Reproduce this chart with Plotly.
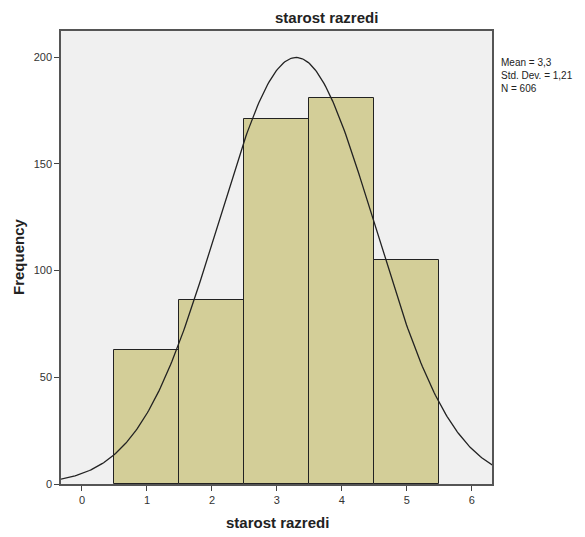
import numpy as np
import plotly.graph_objects as go

categories = [1, 2, 3, 4, 5]
frequencies = [63, 86, 171, 181, 105]
tick_vals_x = [0, 1, 2, 3, 4, 5, 6]
tick_vals_y = [0, 50, 100, 150, 200]
stat_mean = 3.3
stat_sd = 1.21
stat_n = 606
title_text = "starost razredi"
x_title = "starost razredi"
y_title = "Frequency"

# fitted normal curve from the stated statistics
n = sum(frequencies)
mean_exact = sum(c * f for c, f in zip(categories, frequencies)) / n
xs = np.linspace(-0.33, 6.33, 300)
ys = n * 1.0 / (stat_sd * np.sqrt(2 * np.pi)) * np.exp(-0.5 * ((xs - mean_exact) / stat_sd) ** 2)

fig = go.Figure()
fig.add_trace(go.Bar(
    x=categories, y=frequencies, width=1.0,
    marker=dict(color="#D3CE98", line=dict(color="#222222", width=1)),
    hoverinfo="skip",
))
fig.add_trace(go.Scatter(
    x=xs, y=ys, mode="lines",
    line=dict(color="#222222", width=1.3),
    hoverinfo="skip",
))

font_family = "Liberation Sans, Arial, sans-serif"
# page body has an 8px default margin, so the figure is offset by 8px
O = 8
W, H = 585 - O, 537 - O
PL, PR, PT, PB = 61 - O, 492 - O, 31 - O, 484 - O
pw, ph = PR - PL, PB - PT

fig.update_layout(
    width=W, height=H,
    margin=dict(l=PL, r=W - PR, t=PT, b=H - PB, autoexpand=False),
    paper_bgcolor="white",
    plot_bgcolor="#F0F0F0",
    showlegend=False,
    bargap=0,
    font=dict(family=font_family, size=11, color="#333333"),
    xaxis=dict(
        range=[-0.323, 6.31],
        tickvals=tick_vals_x,
        ticks="outside", ticklen=5, tickwidth=1, tickcolor="#444444",
        showgrid=False, zeroline=False, automargin=False,
        showline=True, linecolor="#555555", linewidth=1.5, mirror=True,
        tickfont=dict(size=11, color="#333333"),
    ),
    yaxis=dict(
        range=[0, 212.2],
        tickvals=tick_vals_y,
        ticks="outside", ticklen=5, tickwidth=1, tickcolor="#444444",
        showgrid=False, zeroline=False, automargin=False,
        showline=True, linecolor="#555555", linewidth=1.5, mirror=True,
        tickfont=dict(size=11, color="#333333"),
    ),
    annotations=[
        dict(text="<b>" + title_text + "</b>", xref="paper", yref="paper",
             x=(326 - O - PL) / pw, y=(PB - (17 - O)) / ph, yanchor="middle", xanchor="center",
             showarrow=False, font=dict(size=15, color="#222222")),
        dict(text="<b>" + x_title + "</b>", xref="paper", yref="paper",
             x=(277 - O - PL) / pw, y=(PB - (522 - O)) / ph, yanchor="middle", xanchor="center",
             showarrow=False, font=dict(size=15, color="#222222")),
        dict(text="<b>" + y_title + "</b>", xref="paper", yref="paper",
             x=(18 - O - PL) / pw, y=(PB - (257 - O)) / ph, yanchor="middle", xanchor="center",
             textangle=-90, showarrow=False, font=dict(size=15, color="#222222")),
        dict(text="Mean = " + str(stat_mean).replace(".", ",") +
                  "<br>Std. Dev. = " + str(stat_sd).replace(".", ",") +
                  "<br>N = " + str(stat_n),
             xref="paper", yref="paper", x=(499 - O - PL) / pw, y=(PB - (55 - O)) / ph,
             xanchor="left", yanchor="top", align="left", showarrow=False,
             font=dict(size=10, color="#222222")),
    ],
)

fig.write_html("out.html")
